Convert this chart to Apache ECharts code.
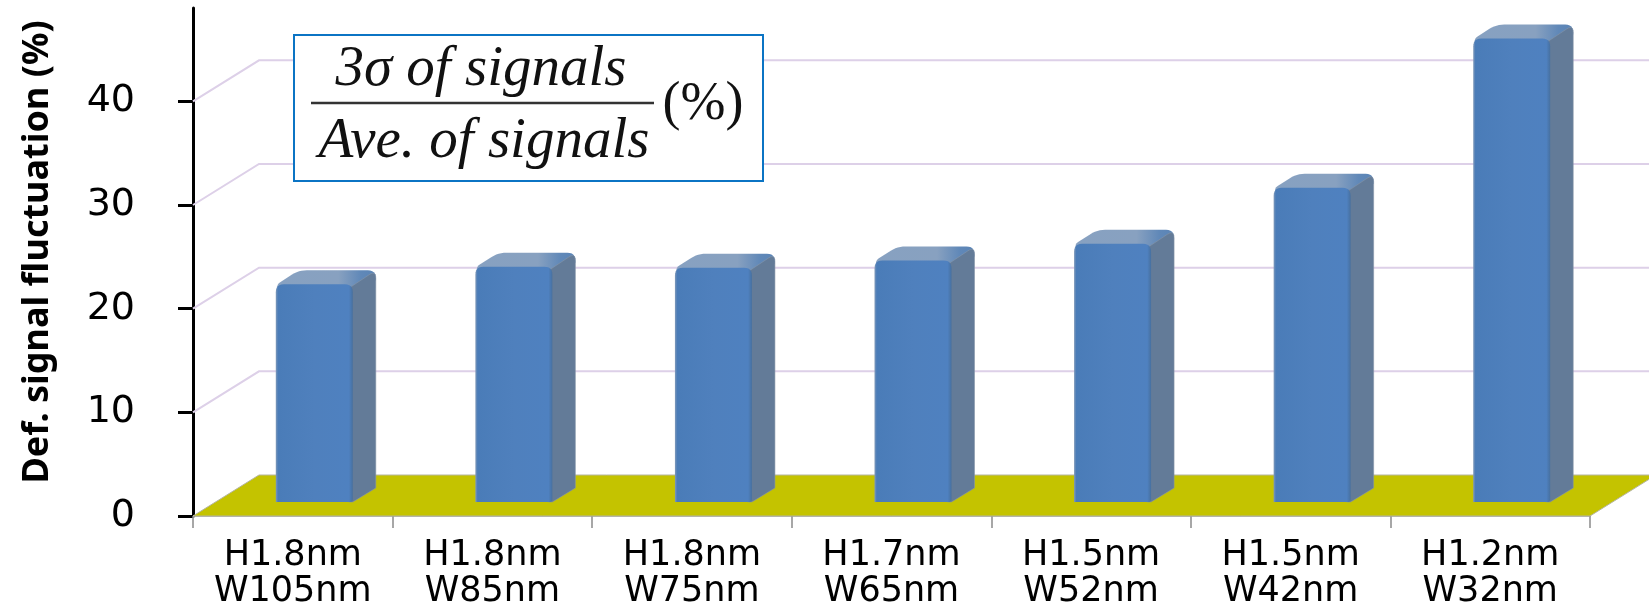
<!DOCTYPE html>
<html>
<head>
<meta charset="utf-8">
<style>html,body{margin:0;padding:0;background:#fff}#chart{width:1649px;height:604px}</style>
<script src="https://cdn.jsdelivr.net/npm/echarts@6/dist/echarts.min.js"></script>
</head>
<body>
<div id="chart"></div>
<script>
// Signal fluctuation against bit size, drawn as a pseudo-3D column chart.
const categories = ['H1.8nm\nW105nm', 'H1.8nm\nW85nm', 'H1.8nm\nW75nm', 'H1.7nm\nW65nm', 'H1.5nm\nW52nm', 'H1.5nm\nW42nm', 'H1.2nm\nW32nm'];
const fluctuation = [21, 22.7, 22.6, 23.3, 24.9, 30.3, 44.7];
const tickValues = [0, 10, 20, 30, 40];
const gridValues = [10, 20, 30, 40];

// Oblique projection of the chart's depth axis, in pixels.
const WALL_DX = 66, WALL_DY = -41;
const BAR_DX = 23, BAR_DY = -14;
const BAR_WIDTH = 77;

const chart = echarts.init(document.getElementById('chart'), null, { renderer: 'canvas' });

// Replaces each corner of a polygon by a short curve of the given radius.
function rounded(points, radii) {
  const out = [];
  points.forEach((p, i) => {
    const r = radii[i];
    if (!r) { out.push(p); return; }
    const a = points[(i + points.length - 1) % points.length];
    const b = points[(i + 1) % points.length];
    const la = Math.hypot(a[0] - p[0], a[1] - p[1]);
    const lb = Math.hypot(b[0] - p[0], b[1] - p[1]);
    const s = [p[0] + (a[0] - p[0]) * r / la, p[1] + (a[1] - p[1]) * r / la];
    const e = [p[0] + (b[0] - p[0]) * r / lb, p[1] + (b[1] - p[1]) * r / lb];
    for (let k = 0; k <= 6; k++) {
      const t = k / 6, u = 1 - t;
      out.push([u * u * s[0] + 2 * u * t * p[0] + t * t * e[0], u * u * s[1] + 2 * u * t * p[1] + t * t * e[1]]);
    }
  });
  return out;
}

function hGrad(stops) {
  return new echarts.graphic.LinearGradient(0, 0, 1, 0, stops.map(c => ({ offset: c[0], color: c[1] })));
}

function renderWallLine(params, api) {
  const cs = params.coordSys;
  const y = api.coord([0, api.value(0)])[1];
  return {
    type: 'polyline',
    silent: true,
    shape: { points: [[cs.x, y], [cs.x + WALL_DX, y + WALL_DY], [cs.x + cs.width + WALL_DX, y + WALL_DY]] },
    style: { stroke: '#ddd0e8', lineWidth: 2, fill: null }
  };
}

function renderFloor(params, api) {
  const cs = params.coordSys;
  const y = api.coord([0, api.value(0)])[1];
  const x0 = cs.x, x1 = cs.x + cs.width;
  return {
    type: 'polygon',
    silent: true,
    shape: { points: [[x0, y], [x0 + WALL_DX, y + WALL_DY], [x1 + WALL_DX, y + WALL_DY], [x1, y]] },
    style: { fill: '#c4c300', stroke: '#b5b5a0', lineWidth: 1 }
  };
}

function renderBar(params, api) {
  const base = api.coord([api.value(0), 0]);
  const top = api.coord([api.value(0), api.value(1)]);
  const cx = base[0] + BAR_DX - 1.5;
  const by = base[1] + BAR_DY;
  const ty = top[1] + BAR_DY;
  const l = cx - BAR_WIDTH / 2, r = cx + BAR_WIDTH / 2;
  // Side and lid run slightly under the front face so its round corners sit on them.
  const side = rounded(
    [[r - 4, by], [r - 4, ty + 4], [r + BAR_DX, ty + BAR_DY], [r + BAR_DX, by + BAR_DY], [r, by]],
    [0, 0, 8, 0, 0]
  );
  const lid = rounded(
    [[l + 2, ty + 8], [l + 1, ty], [l + BAR_DX, ty + BAR_DY], [r + BAR_DX, ty + BAR_DY], [r + BAR_DX, ty + BAR_DY + 10], [r, ty + 8]],
    [0, 4, 8, 8, 0, 0]
  );
  const front = rounded([[l, by], [l, ty], [r, ty], [r, by]], [0, 8, 8, 3]);
  return {
    type: 'group',
    children: [
      { type: 'polygon', silent: true, shape: { points: lid },
        style: { fill: hGrad([[0, '#87a1c1'], [0.62, '#88a1c0'], [0.85, '#6088b8'], [1, '#5a84b6']]) } },
      { type: 'polygon', silent: true, shape: { points: side },
        style: { fill: '#637b98', stroke: '#8696a8', lineWidth: 0.6 } },
      { type: 'polygon', silent: true, shape: { points: front },
        style: { fill: hGrad([[0, '#7f99b9'], [0.03, '#4a7cb8'], [0.5, '#4f80bd'], [0.95, '#4f81c0'], [1, '#47709f']]) } }
    ]
  };
}

const option = {
  animation: false,
  backgroundColor: '#ffffff',
  grid: { left: 193, right: 59, top: 8, bottom: 88, outerBoundsMode: 'none' },
  xAxis: {
    type: 'category',
    data: categories,
    axisLine: { show: true, lineStyle: { color: '#9c9c9c', width: 1.5 } },
    axisTick: { show: true, alignWithLabel: false, length: 12, lineStyle: { color: '#8a8a8a', width: 1.5 } },
    axisLabel: {
      interval: 0,
      margin: 22,
      color: '#000',
      fontFamily: 'DejaVu Sans',
      fontSize: 35,
      lineHeight: 36
    }
  },
  yAxis: {
    type: 'value',
    min: 0,
    max: 49,
    interval: 10,
    name: 'Def. signal fluctuation (%)',
    nameLocation: 'center',
    nameGap: 137,
    nameTextStyle: {
      color: '#000',
      fontFamily: 'Noto Sans',
      fontWeight: 'bold',
      fontSize: 36,
      padding: [0, 0, 0, 20]
    },
    splitLine: { show: false },
    axisLine: { show: true, lineStyle: { color: '#000', width: 3 } },
    axisTick: { show: true, length: 15, customValues: tickValues, lineStyle: { color: '#000', width: 3 } },
    axisLabel: { color: '#000', fontFamily: 'DejaVu Sans', fontSize: 38, margin: 58, customValues: tickValues }
  },
  series: [
    { type: 'custom', z: 1, clip: false, data: gridValues.map(v => [v]), encode: { y: 0 }, renderItem: renderWallLine },
    { type: 'custom', z: 2, clip: false, data: [[0]], encode: { y: 0 }, renderItem: renderFloor },
    {
      type: 'custom', z: 3, clip: false,
      data: fluctuation.map((v, i) => [i, v]),
      encode: { x: 0, y: 1 },
      renderItem: renderBar
    }
  ],
  graphic: [
    { type: 'rect', z: 10, shape: { x: 294, y: 35, width: 469, height: 146 },
      style: { fill: '#fff', stroke: '#0b74c4', lineWidth: 2 } },
    { type: 'line', z: 11, shape: { x1: 311, y1: 103, x2: 654, y2: 103 },
      style: { stroke: '#333', lineWidth: 2.5 } },
    { type: 'text', z: 11, x: 481, y: 70,
      style: { text: '3σ of signals', fill: '#111', font: 'italic 57px "Liberation Serif"', textAlign: 'center', textVerticalAlign: 'middle' } },
    { type: 'text', z: 11, x: 484, y: 142,
      style: { text: 'Ave. of signals', fill: '#111', font: 'italic 57px "Liberation Serif"', textAlign: 'center', textVerticalAlign: 'middle' } },
    { type: 'text', z: 11, x: 703, y: 105,
      style: { text: '(%)', fill: '#111', font: '54px "Liberation Serif"', textAlign: 'center', textVerticalAlign: 'middle' } }
  ]
};
chart.setOption(option);
</script>
</body>
</html>
